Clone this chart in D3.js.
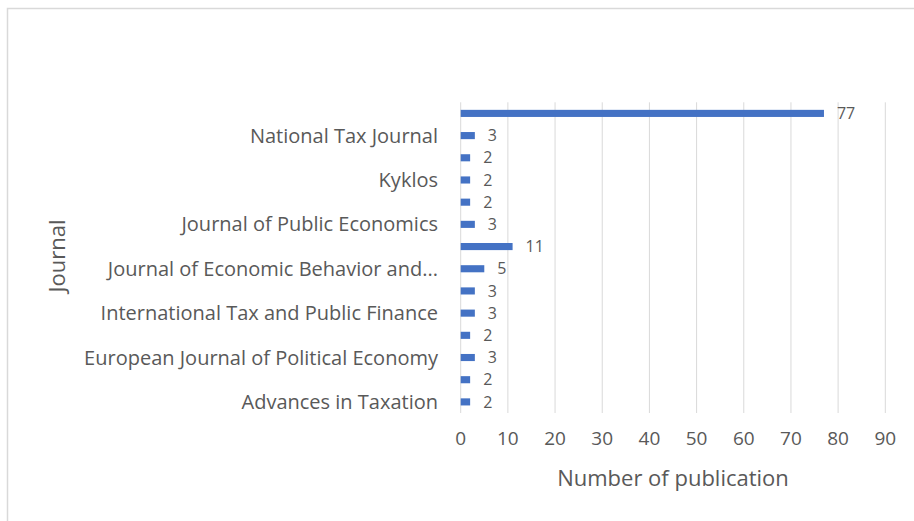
<!DOCTYPE html>
<html>
<head>
<meta charset="utf-8">
<script src="https://cdn.jsdelivr.net/npm/d3@7"></script>
<style>
  html, body { margin: 0; padding: 0; background: #fff; }
  svg { display: block; }
</style>
</head>
<body>
<div id="chart"></div>
<script>
// ============================================================
// Data (bottom to top, as in the picture)
// ============================================================

const journals = [
  "Advances in Taxation",
  "Economics of Governance",
  "European Journal of Political Economy",
  "FinanzArchiv",
  "International Tax and Public Finance",
  "Journal of Behavioral and Experimental Economics",
  "Journal of Economic Behavior and...",
  "Journal of Economic Psychology",
  "Journal of Public Economics",
  "Journal of Tax Administration",
  "Kyklos",
  "Law & Policy",
  "National Tax Journal",
  "Others",
];
const publications = [2, 2, 3, 2, 3, 3, 5, 11, 3, 2, 2, 2, 3, 77];
// only every other category gets a visible label
const shownLabels = journals.filter((d, i) => i % 2 === 0);
const xTicks = [0, 10, 20, 30, 40, 50, 60, 70, 80, 90];

const COLORS = {
  bar:   "#4472c4",
  grid:  "#d9d9d9",
  text:  "#595959",
  frame: "#d9d9d9",
};

const W = 914;
const H = 521;
const FONT = "'Open Sans', sans-serif";

const svg = d3.select("#chart")
  .append("svg")
  .attr("width", W)
  .attr("height", H);

// --- outer frame (chart area border, cut off at the right/bottom) ---
svg.append("rect")
  .attr("x", 7.5).attr("y", 8.5)
  .attr("width", W + 10).attr("height", H + 10)
  .attr("fill", "none")
  .attr("stroke", COLORS.frame)
  .attr("stroke-width", 1.5);

// --- scales ---
const x = d3.scaleLinear()
  .domain([0, 90])
  .range([460.7, 885.3]);

const y = d3.scaleBand()
  .domain(journals.slice().reverse())
  .range([102.3, 413])
  .paddingInner(0.68)
  .paddingOuter(0.34);

// --- vertical gridlines ---
svg.append("g")
  .selectAll("line")
  .data(xTicks)
  .join("line")
  .attr("x1", (d) => x(d)).attr("x2", (d) => x(d))
  .attr("y1", 102.3).attr("y2", 413)
  .attr("stroke", COLORS.grid)
  .attr("stroke-width", 1);

// --- bars ---
svg.append("g")
  .selectAll("rect")
  .data(journals)
  .join("rect")
  .attr("x", x(0))
  .attr("y", (d) => y(d))
  .attr("width", (d, i) => x(publications[i]) - x(0))
  .attr("height", y.bandwidth())
  .attr("fill", COLORS.bar);

// --- data labels (kept small enough that rows don't collide) ---
svg.append("g")
  .selectAll("text")
  .data(journals)
  .join("text")
  .attr("x", (d, i) => x(publications[i]) + 13)
  .attr("y", (d) => y(d) + y.bandwidth() / 2)
  .attr("dy", "0.35em")
  .attr("font-family", FONT)
  .attr("font-size", "16px")
  .attr("fill", COLORS.text)
  .text((d, i) => publications[i]);

// --- category labels (every other one) ---
svg.append("g")
  .selectAll("text")
  .data(shownLabels)
  .join("text")
  .attr("x", 438)
  .attr("y", (d) => y(d) + y.bandwidth() / 2)
  .attr("dy", "0.35em")
  .attr("text-anchor", "end")
  .attr("font-family", FONT)
  .attr("font-size", "20px")
  .attr("fill", COLORS.text)
  .text((d) => d);

// --- x tick labels ---
svg.append("g")
  .selectAll("text")
  .data(xTicks)
  .join("text")
  .attr("x", (d) => x(d))
  .attr("y", 438)
  .attr("dy", "0.35em")
  .attr("text-anchor", "middle")
  .attr("font-family", FONT)
  .attr("font-size", "19px")
  .attr("fill", COLORS.text)
  .text((d) => d);

// --- axis titles ---
svg.append("text")
  .attr("x", 673)
  .attr("y", 478)
  .attr("dy", "0.35em")
  .attr("text-anchor", "middle")
  .attr("font-family", FONT)
  .attr("font-size", "22px")
  .attr("fill", COLORS.text)
  .text("Number of publication");

svg.append("text")
  .attr("transform", "translate(57,256) rotate(-90)")
  .attr("dy", "0.35em")
  .attr("text-anchor", "middle")
  .attr("font-family", FONT)
  .attr("font-size", "22px")
  .attr("fill", COLORS.text)
  .text("Journal");
</script>
</body>
</html>
